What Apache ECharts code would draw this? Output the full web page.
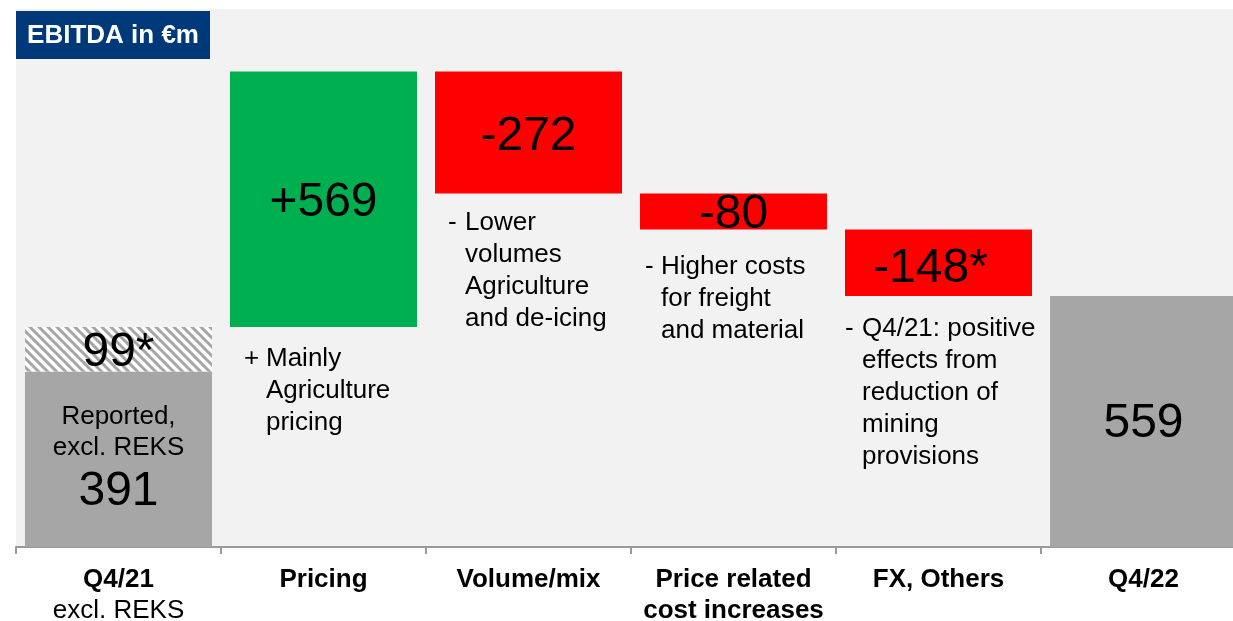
<!DOCTYPE html>
<html>
<head>
<meta charset="utf-8">
<script src="https://cdn.jsdelivr.net/npm/echarts@6/dist/echarts.min.js"></script>
<style>
html,body{margin:0;padding:0;background:#fff;}
#chart{width:1233px;height:621px;}
</style>
</head>
<body>
<div id="chart"></div>
<script>
// ---- data ----
const categories = ['Q4/21', 'Pricing', 'Volume/mix', 'Price related\ncost increases', 'FX, Others', 'Q4/22'];
const categoryNotes = ['excl. REKS', '', '', '', '', ''];
const startReported = 391;      // Q4/21 reported, excl. REKS
const startAdjustment = 99;     // hatched part (99*)
const deltas = [569, -272, -80, -148];   // Pricing, Volume/mix, Price related cost increases, FX/Others
const endValue = 559;           // Q4/22
const deltaLabels = ['+569', '-272', '-80', '-148*'];
const adjustmentLabel = '99*';
const startLabelLines = ['Reported,', 'excl. REKS'];
const bullets = ['+', '-', '-', '-'];
const notes = [
  ['Mainly', 'Agriculture', 'pricing'],
  ['Lower', 'volumes', 'Agriculture', 'and de-icing'],
  ['Higher costs', 'for freight', 'and material'],
  ['Q4/21: positive', 'effects from', 'reduction of', 'mining', 'provisions']
];

// ---- styling / layout ----
const FONT = '"Liberation Sans", Arial, sans-serif';
const GREEN = '#00b050', RED = '#ff0000', GRAY = '#a6a6a6';
const noteOffsets = [[14, 16], [13, 13], [5, 21], [0, 17]];
const bulletWidths = [22, 17, 16, 17];
const deltaOffsets = [[0, 4], [0, 4], [0, 3], [-8, 6]];

// hatch pattern
const pat = document.createElement('canvas');
const P = 9;
pat.width = P; pat.height = P;
const pc = pat.getContext('2d');
pc.fillStyle = '#ffffff'; pc.fillRect(0, 0, P, P);
pc.strokeStyle = GRAY; pc.lineWidth = 3;
pc.beginPath();
pc.moveTo(-P, 0); pc.lineTo(P, 2 * P);
pc.moveTo(0, 0); pc.lineTo(P, P);
pc.moveTo(0, -P); pc.lineTo(2 * P, P);
pc.stroke();

// waterfall computation
let running = startReported + startAdjustment;
const baseData = ['-'];
const deltaData = ['-'];
deltas.forEach((d, i) => {
  const bottom = d >= 0 ? running : running + d;
  const color = d >= 0 ? GREEN : RED;
  baseData.push({
    value: bottom,
    label: {
      show: true,
      position: 'insideTopLeft',
      distance: 0,
      offset: noteOffsets[i],
      formatter: notes[i].map((t, k) => '{b|' + (k === 0 ? bullets[i] : ' ') + '}{t|' + t + '}').join('\n'),
      rich: {
        b: { width: bulletWidths[i], fontSize: 26, lineHeight: 32, color: '#000', fontFamily: FONT, align: 'left' },
        t: { fontSize: 26, lineHeight: 32, color: '#000', fontFamily: FONT }
      }
    }
  });
  deltaData.push({
    value: Math.abs(d),
    itemStyle: { color: color },
    label: { show: true, position: 'inside', formatter: deltaLabels[i], offset: deltaOffsets[i],
      fontSize: 48, color: '#000', fontFamily: FONT }
  });
  running += d;
});
baseData.push('-');
deltaData.push('-');

const reportedData = [startReported, '-', '-', '-', '-', endValue];
const hatchData = [startAdjustment, '-', '-', '-', '-', '-'];

const chart = echarts.init(document.getElementById('chart'), null, { renderer: 'canvas' });
chart.setOption({
  animation: false,
  graphic: [
    { type: 'rect', shape: { x: 16, y: 11, width: 194, height: 48 }, style: { fill: '#00397a' }, z: 100 },
    { type: 'text', x: 113, y: 36, style: { text: 'EBITDA in €m', fill: '#fff', font: 'bold 26px ' + FONT, align: 'center', verticalAlign: 'middle' }, z: 101 }
  ],
  grid: { left: 16, top: 9, width: 1230, bottom: 74, show: true, backgroundColor: '#f2f2f2', borderWidth: 0,
    outerBoundsMode: 'none', containLabel: false },
  xAxis: {
    type: 'category',
    data: categories,
    axisLine: { lineStyle: { color: '#9a9a9a', width: 2 } },
    axisTick: { show: true, length: 7, lineStyle: { color: '#9a9a9a', width: 2 } },
    axisLabel: {
      interval: 0,
      margin: 17,
      hideOverlap: false,
      formatter: (v, i) => v.split('\n').map(s => '{h|' + s + '}').join('\n') + (categoryNotes[i] ? '\n{n|' + categoryNotes[i] + '}' : ''),
      rich: {
        h: { fontSize: 26, fontWeight: 'bold', lineHeight: 31, color: '#000', fontFamily: FONT },
        n: { fontSize: 26, lineHeight: 31, color: '#000', fontFamily: FONT }
      }
    }
  },
  yAxis: { type: 'value', min: 0, max: 1198, show: false, splitLine: { show: false } },
  series: [
    { name: 'base', type: 'bar', stack: 'w', barWidth: 187, silent: true,
      itemStyle: { color: 'rgba(0,0,0,0)' }, data: baseData },
    { name: 'reported', type: 'bar', stack: 'w', barWidth: 187, silent: true,
      itemStyle: { color: GRAY },
      label: {
        show: true, position: 'inside',
        formatter: (p) => p.dataIndex === 0
          ? startLabelLines.map(s => '{t|' + s + '}').join('\n') + '\n{v|' + p.value + '}'
          : '{v|' + p.value + '}',
        offset: [0, 2],
        rich: {
          t: { fontSize: 26, lineHeight: 31, color: '#000', fontFamily: FONT },
          v: { fontSize: 48, lineHeight: 58, color: '#000', fontFamily: FONT }
        }
      },
      data: reportedData },
    { name: 'adjustment', type: 'bar', stack: 'w', barWidth: 187, silent: true,
      itemStyle: { color: { image: pat, repeat: 'repeat' } },
      label: { show: true, position: 'inside', formatter: adjustmentLabel, offset: [0, 4], fontSize: 48, color: '#000', fontFamily: FONT },
      data: hatchData },
    { name: 'delta', type: 'bar', stack: 'w', barWidth: 187, silent: true, data: deltaData }
  ]
});
</script>
</body>
</html>
